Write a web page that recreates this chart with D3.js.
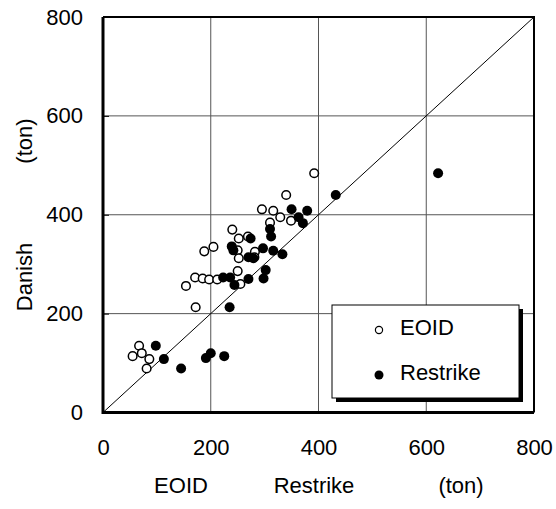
<!DOCTYPE html>
<html lang="en">
<head>
    <meta charset="UTF-8">
    <title>Danish vs EOID / Restrike</title>
    <script src="https://d3js.org/d3.v7.min.js"></script>
    <style>
        body { margin: 0; background: #fff; }
        svg text { font-family: "Liberation Sans", Arial, sans-serif; font-size: 22px; fill: #000; }
        .grid line { stroke: #555; stroke-width: 1px; }
    </style>
</head>
<body>
    <svg width="556" height="509"></svg>

    <script>
        // tick values for both axes (ton)
        const ticks = [0, 200, 400, 600, 800];

        // EOID (open circles): [EOID, Danish]
        const eoid = [
            [392, 484], [340, 440], [295, 411], [316, 408], [329, 395], [349, 388],
            [310, 384], [240, 370], [252, 352], [269, 356], [282, 325], [250, 328],
            [252, 312], [281, 314], [250, 286], [255, 260], [205, 335], [188, 326],
            [171, 273], [185, 271], [197, 269], [212, 269], [154, 256], [172, 213],
            [67, 135], [55, 114], [72, 120], [86, 108], [81, 89]
        ];

        // Restrike (filled circles): [Restrike, Danish]
        const restrike = [
            [622, 484], [432, 440], [350, 411], [379, 408], [363, 395], [371, 383],
            [310, 371], [312, 356], [274, 352], [239, 336], [242, 328], [297, 332],
            [316, 327], [333, 320], [270, 314], [279, 312], [302, 288], [298, 271],
            [270, 270], [223, 273], [236, 273], [244, 258], [235, 213], [98, 135],
            [113, 108], [145, 89], [191, 110], [200, 120], [225, 114]
        ];

        const legendItems = ["EOID", "Restrike"];
        const xTitles = ["EOID", "Restrike", "(ton)"];

        const svg = d3.select("svg");

        const x = d3.scaleLinear().domain([0, 800]).range([103, 534]);
        const y = d3.scaleLinear().domain([0, 800]).range([412.5, 17]);

        // gridlines
        const grid = svg.append("g").attr("class", "grid");
        grid.selectAll("line.v")
            .data(ticks.slice(1, -1))
            .join("line")
            .attr("x1", d => x(d)).attr("x2", d => x(d))
            .attr("y1", y(0)).attr("y2", y(800));
        grid.selectAll("line.h")
            .data(ticks.slice(1, -1))
            .join("line")
            .attr("y1", d => y(d)).attr("y2", d => y(d))
            .attr("x1", x(0)).attr("x2", x(800));

        // 1:1 line
        svg.append("line")
            .attr("x1", x(0)).attr("y1", y(0))
            .attr("x2", x(800)).attr("y2", y(800))
            .attr("stroke", "#000").attr("stroke-width", 1);

        // frame: thin top/right, thick left/bottom
        svg.append("path")
            .attr("d", `M${x(0)},${y(800)}H${x(800)}V${y(0)}`)
            .attr("fill", "none").attr("stroke", "#000").attr("stroke-width", 2);

        // axes
        const yAxis = svg.append("g")
            .attr("transform", `translate(${x(0)},0)`)
            .call(d3.axisLeft(y).tickValues(ticks).tickSizeInner(-6).tickSizeOuter(0).tickPadding(20));
        const xAxis = svg.append("g")
            .attr("transform", `translate(0,${y(0)})`)
            .call(d3.axisBottom(x).tickValues(ticks).tickSizeInner(0).tickSizeOuter(0).tickPadding(27));
        [xAxis, yAxis].forEach(g => {
            g.attr("font-family", null).attr("font-size", null);
            g.select(".domain").remove();
            g.selectAll(".tick line").attr("stroke", "#000").attr("stroke-width", 1);
        });

        svg.append("path")
            .attr("d", `M${x(0)},${y(800)}V${y(0)}H${x(800)}`)
            .attr("fill", "none").attr("stroke", "#000").attr("stroke-width", 3);

        // points
        svg.append("g").selectAll("circle")
            .data(eoid)
            .join("circle")
            .attr("cx", d => x(d[0])).attr("cy", d => y(d[1]))
            .attr("r", 4.3)
            .attr("fill", "#fff").attr("stroke", "#000").attr("stroke-width", 1.5);

        svg.append("g").selectAll("circle")
            .data(restrike)
            .join("circle")
            .attr("cx", d => x(d[0])).attr("cy", d => y(d[1]))
            .attr("r", 5)
            .attr("fill", "#000");

        // legend with shadow
        const lg = svg.append("g").attr("transform", "translate(332,305)");
        lg.append("rect").attr("x", 4).attr("y", 4).attr("width", 187).attr("height", 93).attr("fill", "#000");
        lg.append("rect").attr("width", 187).attr("height", 93)
            .attr("fill", "#fff").attr("stroke", "#000").attr("stroke-width", 1);
        legendItems.forEach((name, i) => {
            const cy = 25 + i * 45;
            lg.append("circle")
                .attr("cx", 47).attr("cy", cy)
                .attr("r", i === 0 ? 3.6 : 4.5)
                .attr("fill", i === 0 ? "#fff" : "#000")
                .attr("stroke", "#000").attr("stroke-width", i === 0 ? 1.2 : 0);
            lg.append("text").attr("x", 68).attr("y", cy + 5).text(name);
        });

        // axis titles
        const xTitleX = [181, 314, 461];
        svg.selectAll("text.xt")
            .data(xTitles)
            .join("text")
            .attr("class", "xt")
            .attr("x", (d, i) => xTitleX[i]).attr("y", 493)
            .attr("text-anchor", "middle")
            .text(d => d);

        svg.append("text")
            .attr("transform", "translate(32,277) rotate(-90)")
            .attr("text-anchor", "middle").text("Danish");
        svg.append("text")
            .attr("transform", "translate(32,141) rotate(-90)")
            .attr("text-anchor", "middle").text("(ton)");
    </script>
</body>
</html>
